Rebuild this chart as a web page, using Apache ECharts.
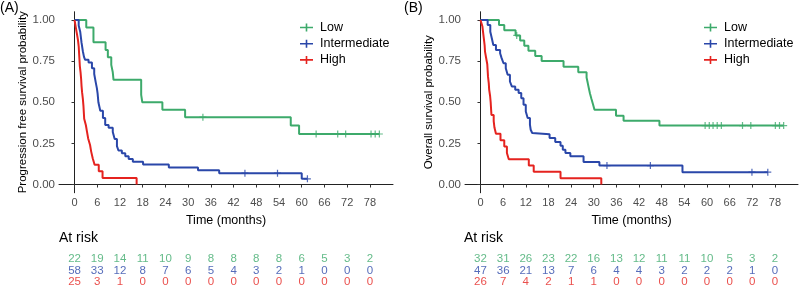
<!DOCTYPE html>
<html>
<head>
<meta charset="utf-8">
<script src="https://cdn.jsdelivr.net/npm/echarts@6/dist/echarts.min.js"></script>
<style>
  html, body { margin: 0; padding: 0; background: #fff; }
  #chart { width: 800px; height: 288px; }
</style>
</head>
<body>
<div id="chart"></div>
<script>
// tick labels
const timeTicks = [0, 6, 12, 18, 24, 30, 36, 42, 48, 54, 60, 66, 72, 78]
const survTicks = [0, 0.25, 0.5, 0.75, 1]
const groups = ['Low', 'Intermediate', 'High']

// (A) progression free survival, [months, probability]
const pfsLow = [[0, 1], [3.1, 0.955], [5.0, 0.864], [8.2, 0.818], [8.8, 0.773], [9.7, 0.727], [10.1, 0.682],
  [10.3, 0.636], [17.6, 0.545], [17.9, 0.5], [23.2, 0.455], [29.2, 0.409], [57.1, 0.358], [59.3, 0.307], [80.5, 0.307]]
const pfsMid = [[0, 1], [1.1, 0.966], [1.5, 0.929], [1.85, 0.862], [2.2, 0.81], [2.5, 0.776], [2.8, 0.758],
  [3.7, 0.741], [4.6, 0.707], [5.2, 0.672], [5.6, 0.621], [5.9, 0.586], [6.1, 0.552], [6.3, 0.5], [6.8, 0.448],
  [7.5, 0.405], [8.1, 0.362], [9.0, 0.345], [10.1, 0.319], [10.6, 0.276], [11.2, 0.233], [11.6, 0.207],
  [12.5, 0.19], [13.4, 0.172], [14.3, 0.155], [15.4, 0.138], [18.1, 0.121], [24.9, 0.103], [32.6, 0.086],
  [38.2, 0.069], [60, 0.035], [61.5, 0.035]]
const pfsHigh = [[0, 1], [0.3, 0.96], [0.6, 0.92], [0.9, 0.88], [1.1, 0.84], [1.2, 0.8], [1.3, 0.76], [1.4, 0.72],
  [1.6, 0.68], [1.75, 0.64], [1.85, 0.6], [2.0, 0.56], [2.2, 0.52], [2.35, 0.48], [2.45, 0.44], [2.55, 0.4],
  [3.0, 0.36], [3.3, 0.32], [3.6, 0.28], [4.1, 0.24], [4.4, 0.2], [4.8, 0.16], [5.3, 0.12], [6.4, 0.08],
  [7.4, 0.04], [16.4, 0]]
const pfsLowCens = [[33.9, 0.409], [63.8, 0.307], [69.5, 0.307], [71.6, 0.307], [78.3, 0.307], [79.4, 0.307], [80.5, 0.307]]
const pfsMidCens = [[45, 0.069], [53.6, 0.069], [61.5, 0.035]]

// (B) overall survival
const osLow = [[0, 1], [4.9, 0.969], [6.3, 0.938], [9.3, 0.906], [10.5, 0.875], [11.6, 0.844], [12.7, 0.813],
  [14.5, 0.781], [16.2, 0.75], [22.0, 0.716], [25.9, 0.682], [28.1, 0.65], [28.4, 0.618], [28.7, 0.585],
  [29.0, 0.553], [29.4, 0.52], [29.8, 0.488], [30.2, 0.455], [35.9, 0.418], [37.9, 0.388], [47.4, 0.358], [80.3, 0.358]]
const osMid = [[0, 1], [1.9, 0.97], [2.6, 0.929], [3.0, 0.889], [3.4, 0.848], [4.1, 0.818], [5.2, 0.798],
  [5.6, 0.768], [6.1, 0.737], [6.7, 0.707], [7.2, 0.667], [7.8, 0.626], [8.3, 0.596], [9.2, 0.576], [10.1, 0.556],
  [10.8, 0.525], [11.4, 0.485], [12.0, 0.444], [12.5, 0.404], [13.1, 0.364], [13.3, 0.333], [13.7, 0.313],
  [14.1, 0.305], [18.3, 0.283], [19.8, 0.258], [21.2, 0.235], [21.8, 0.212], [22.5, 0.192], [23.8, 0.172],
  [27.3, 0.137], [31.5, 0.115], [53.5, 0.075], [76.1, 0.075]]
const osHigh = [[0, 1], [0.5, 0.962], [0.7, 0.923], [0.9, 0.885], [1.1, 0.846], [1.2, 0.808], [1.5, 0.769],
  [1.8, 0.731], [1.9, 0.692], [2.0, 0.654], [2.2, 0.615], [2.3, 0.577], [2.55, 0.538], [2.7, 0.5], [2.8, 0.462],
  [2.9, 0.423], [3.5, 0.385], [3.7, 0.346], [4.1, 0.308], [5.3, 0.269], [6.3, 0.231], [7.0, 0.192], [7.5, 0.154],
  [12.8, 0.115], [14.1, 0.077], [21.2, 0.038], [32.0, 0]]
const osLowCens = [[9.6, 0.906], [59.5, 0.358], [60.6, 0.358], [61.6, 0.358], [62.7, 0.358], [63.8, 0.358],
  [69.4, 0.358], [71.6, 0.358], [78.1, 0.358], [79.2, 0.358], [80.3, 0.358]]
const osMidCens = [[33.5, 0.115], [45, 0.115], [71.9, 0.075], [76.1, 0.075]]

// numbers at risk
const riskLowA = [22, 19, 14, 11, 10, 9, 8, 8, 8, 8, 6, 5, 3, 2]
const riskMidA = [58, 33, 12, 8, 7, 6, 5, 4, 3, 2, 1, 0, 0, 0]
const riskHighA = [25, 3, 1, 0, 0, 0, 0, 0, 0, 0, 0, 0, 0, 0]
const riskLowB = [32, 31, 26, 23, 22, 16, 13, 12, 11, 11, 10, 5, 3, 2]
const riskMidB = [47, 36, 21, 13, 7, 6, 4, 4, 3, 2, 2, 2, 1, 0]
const riskHighB = [26, 7, 4, 2, 1, 1, 0, 0, 0, 0, 0, 0, 0, 0]

const colors = { Low: '#3DAA6B', Intermediate: '#2A47A9', High: '#E5231F' }
const font = 'Liberation Sans, Arial, Helvetica, sans-serif'
const plusPath = 'path://M3.3,0h1.4v3.3h3.3v1.4h-3.3v3.3h-1.4v-3.3h-3.3v-1.4h3.3z'
const legendIcon = 'path://M0,3.9h13v1.6h-13z M5.7,0.7h1.6v8h-1.6z'

const curveSeries = (name, data, idx) => ({
  name, type: 'line', step: 'end', data, xAxisIndex: idx, yAxisIndex: idx,
  symbol: 'none', lineStyle: { color: colors[name], width: 2 }, itemStyle: { color: colors[name] },
  animation: false
})
const censorSeries = (name, data, idx) => ({
  name: name + ' censor', type: 'scatter', data, xAxisIndex: idx, yAxisIndex: idx,
  symbol: plusPath, symbolSize: 7, itemStyle: { color: colors[name] }, animation: false, silent: true
})
const riskSeries = (name, counts, row, idx) => ({
  name: name + ' risk', type: 'scatter', xAxisIndex: idx, yAxisIndex: idx,
  data: counts.map((n, i) => [timeTicks[i], row, n]),
  symbolSize: 0.1, itemStyle: { color: 'transparent' }, animation: false, silent: true,
  label: { show: true, position: 'inside', formatter: p => p.value[2], color: colors[name], fontSize: 11.5, fontFamily: font }
})

const plotX = (gi) => ({
  type: 'value', gridIndex: gi, min: -4.1, max: 84.1,
  name: 'Time (months)', nameLocation: 'middle', nameGap: 17,
  nameTextStyle: { color: '#000', fontSize: 12.5, fontFamily: font },
  axisLine: { lineStyle: { color: '#222', width: 1 } },
  axisTick: { customValues: timeTicks, length: 3, lineStyle: { color: '#333' } },
  axisLabel: { customValues: timeTicks, margin: 5, color: '#4d4d4d', fontSize: 11, fontFamily: font },
  splitLine: { show: false }
})
const plotY = (gi, title) => ({
  type: 'value', gridIndex: gi, min: -0.05, max: 1.05,
  name: title, nameLocation: 'middle', nameGap: 29,
  nameTextStyle: { color: '#000', fontSize: 11.5, fontFamily: font },
  axisLine: { show: true, lineStyle: { color: '#222', width: 1 } },
  axisTick: { show: true, customValues: survTicks, length: 3, lineStyle: { color: '#333' } },
  axisLabel: { customValues: survTicks, margin: 4, color: '#4d4d4d', fontSize: 11.5, fontFamily: font,
    formatter: v => v.toFixed(2) },
  splitLine: { show: false }
})
const riskX = (gi) => ({ type: 'value', gridIndex: gi, min: -4.1, max: 84.1, show: false })
const riskY = (gi) => ({ type: 'value', gridIndex: gi, min: -0.5, max: 2.5, inverse: true, show: false })
const legendAt = (left) => ({
  data: groups, orient: 'vertical', left, top: 21, itemWidth: 13, itemHeight: 9, itemGap: 3.2,
  icon: legendIcon, selectedMode: false, padding: 0,
  itemStyle: { borderWidth: 0 },
  textStyle: { fontSize: 12.5, color: '#000', fontFamily: font, padding: [0, 0, 0, 2] }
})

const chart = echarts.init(document.getElementById('chart'), null, { renderer: 'canvas' })
chart.setOption({
  backgroundColor: '#fff',
  animation: false,
  title: [
    { text: '(A)', left: 0, top: 1, padding: 0, textStyle: { fontSize: 14, fontWeight: 'normal', color: '#000', fontFamily: font } },
    { text: '(B)', left: 404, top: 1, padding: 0, textStyle: { fontSize: 14, fontWeight: 'normal', color: '#000', fontFamily: font } },
    { text: 'At risk', left: 59, top: 231, padding: 0, textStyle: { fontSize: 14, fontWeight: 'normal', color: '#000', fontFamily: font } },
    { text: 'At risk', left: 464, top: 231, padding: 0, textStyle: { fontSize: 14, fontWeight: 'normal', color: '#000', fontFamily: font } }
  ],
  legend: [legendAt(300), legendAt(704)],
  grid: [
    { left: 59, right: 407, top: 11.75, height: 181 },
    { left: 465, right: 2, top: 11.75, height: 181 },
    { left: 59, right: 407, top: 253.7, height: 33.6 },
    { left: 465, right: 2, top: 253.7, height: 33.6 }
  ],
  xAxis: [plotX(0), plotX(1), riskX(2), riskX(3)],
  yAxis: [plotY(0, 'Progression free survival probability'), plotY(1, 'Overall survival probability'), riskY(2), riskY(3)],
  series: [
    curveSeries('Low', pfsLow, 0),
    curveSeries('Intermediate', pfsMid, 0),
    curveSeries('High', pfsHigh, 0),
    censorSeries('Low', pfsLowCens, 0),
    censorSeries('Intermediate', pfsMidCens, 0),
    curveSeries('Low', osLow, 1),
    curveSeries('Intermediate', osMid, 1),
    curveSeries('High', osHigh, 1),
    censorSeries('Low', osLowCens, 1),
    censorSeries('Intermediate', osMidCens, 1),
    riskSeries('Low', riskLowA, 0, 2),
    riskSeries('Intermediate', riskMidA, 1, 2),
    riskSeries('High', riskHighA, 2, 2),
    riskSeries('Low', riskLowB, 0, 3),
    riskSeries('Intermediate', riskMidB, 1, 3),
    riskSeries('High', riskHighB, 2, 3)
  ]
})
</script>
</body>
</html>
